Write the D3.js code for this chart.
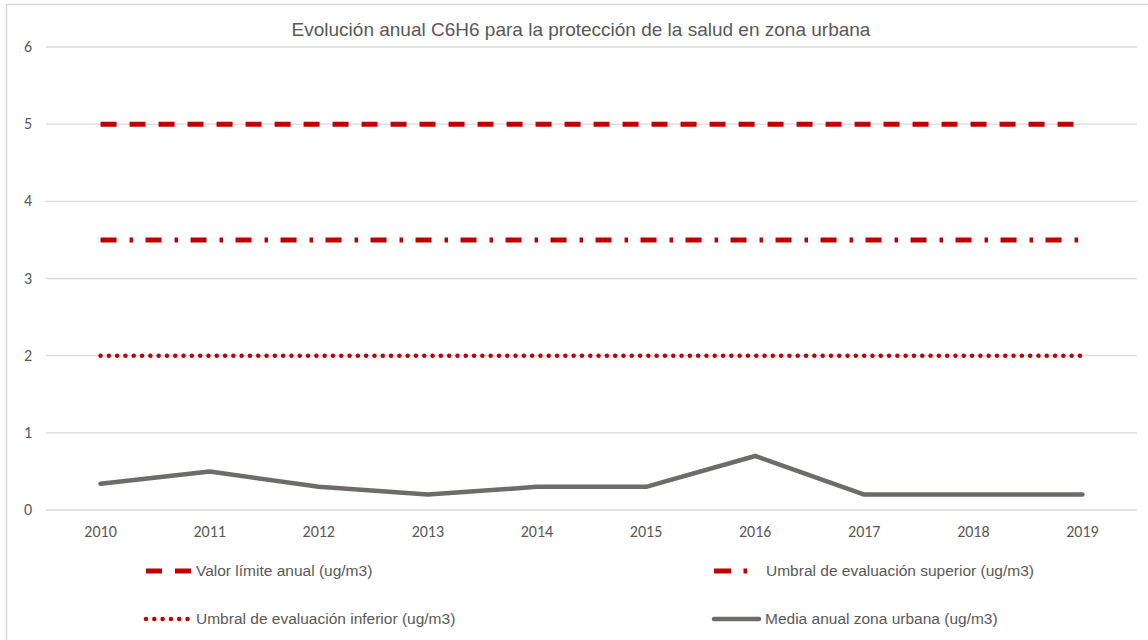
<!DOCTYPE html>
<html>
<head>
<meta charset="utf-8">
<script src="https://cdn.jsdelivr.net/npm/d3@7"></script>
<style>
body { margin: 0; background: #fff; }
</style>
</head>
<body>
<div id="chart"></div>
<script>
// data
var years = ["2010","2011","2012","2013","2014","2015","2016","2017","2018","2019"];
var valorLimite = [5,5,5,5,5,5,5,5,5,5];
var umbralSuperior = [3.5,3.5,3.5,3.5,3.5,3.5,3.5,3.5,3.5,3.5];
var umbralInferior = [2,2,2,2,2,2,2,2,2,2];
var mediaUrbana = [0.34,0.5,0.3,0.2,0.3,0.3,0.7,0.2,0.2,0.2];
var yTicks = [0,1,2,3,4,5,6];

var W = 1148, H = 640;
var plotLeft = 46, plotRight = 1137, plotTop = 47, plotBottom = 510;

var svg = d3.select("#chart").append("svg")
	.attr("width", W).attr("height", H);

svg.append("rect")
	.attr("x", 6.5).attr("y", 4.5)
	.attr("width", 1200).attr("height", 700)
	.attr("fill", "#fff").attr("stroke", "#d9d9d9").attr("stroke-width", 1.5);

var x = d3.scaleBand().domain(years).range([plotLeft, plotRight]);
var y = d3.scaleLinear().domain([0, 6]).range([plotBottom, plotTop]);

// gridlines
svg.append("g").selectAll("line")
	.data(yTicks).join("line")
	.attr("x1", plotLeft).attr("x2", plotRight)
	.attr("y1", d => y(d)).attr("y2", d => y(d))
	.attr("stroke", "#d9d9d9").attr("stroke-width", 1.3);

// y labels
svg.append("g").selectAll("text")
	.data(yTicks).join("text")
	.attr("x", 28).attr("y", d => y(d) + 5)
	.attr("text-anchor", "middle")
	.attr("font-family", "Carlito, 'Open Sans', sans-serif")
	.attr("font-size", 16).attr("fill", "#595959")
	.text(d => d);

// x labels
svg.append("g").selectAll("text")
	.data(years).join("text")
	.attr("x", d => x(d) + x.bandwidth() / 2).attr("y", 537)
	.attr("text-anchor", "middle")
	.attr("font-family", "Carlito, 'Open Sans', sans-serif")
	.attr("font-size", 16).attr("fill", "#595959")
	.text(d => d);

var series = [
	{name: "Valor límite anual (ug/m3)", values: valorLimite, color: "#c00000", width: 5, dash: "16,13", cap: "butt"},
	{name: "Umbral de evaluación superior (ug/m3)", values: umbralSuperior, color: "#c00000", width: 5, dash: "16,13,3.5,12.5", cap: "butt"},
	{name: "Umbral de evaluación inferior (ug/m3)", values: umbralInferior, color: "#c00000", width: 4.5, dash: "0,8.3", cap: "round"},
	{name: "Media anual zona urbana (ug/m3)", values: mediaUrbana, color: "#6f6b6b", width: 4.5, dash: null, cap: "round"}
];

var line = d3.line()
	.x((d, i) => x(years[i]) + x.bandwidth() / 2)
	.y(d => y(d));

series.forEach(s => {
	svg.append("path")
		.datum(s.values)
		.attr("fill", "none")
		.attr("stroke", s.color)
		.attr("stroke-width", s.width)
		.attr("stroke-dasharray", s.dash)
		.attr("stroke-linecap", s.cap)
		.attr("stroke-linejoin", "round")
		.attr("d", line);
});

// title
svg.append("text")
	.attr("x", 581).attr("y", 36)
	.attr("text-anchor", "middle")
	.attr("font-family", "'Liberation Sans', Arial, sans-serif")
	.attr("font-size", 19).attr("fill", "#595959")
	.text("Evolución anual C6H6 para la protección de la salud en zona urbana");

// legend
var legPos = [
	{sx: 146, tx: 196, y: 571},
	{sx: 714, tx: 766, y: 571},
	{sx: 146, tx: 196, y: 619},
	{sx: 714, tx: 765, y: 619}
];
var legDash = ["16,13", "17,12.5,3.5,100", "0,8.3", null];
var legLen = [45, 34, 45, 45];

series.forEach((s, i) => {
	var p = legPos[i];
	svg.append("line")
		.attr("x1", p.sx).attr("x2", p.sx + legLen[i])
		.attr("y1", p.y).attr("y2", p.y)
		.attr("stroke", s.color)
		.attr("stroke-width", s.width)
		.attr("stroke-dasharray", legDash[i])
		.attr("stroke-linecap", s.cap);
	svg.append("text")
		.attr("x", p.tx).attr("y", p.y + 5)
		.attr("font-family", "'Liberation Sans', Arial, sans-serif")
		.attr("font-size", 15.5).attr("fill", "#595959")
		.text(s.name);
});
</script>
</body>
</html>
